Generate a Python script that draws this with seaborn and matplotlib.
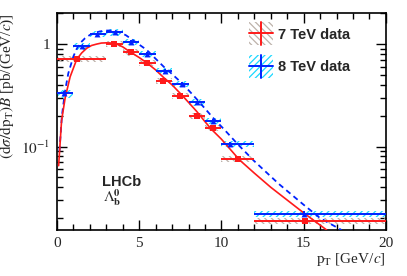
import numpy as np
import pandas as pd
import matplotlib
matplotlib.use("Agg")
import matplotlib.pyplot as plt
import matplotlib.ticker as mticker
import seaborn as sns
from matplotlib.patches import Rectangle
from matplotlib.lines import Line2D
from matplotlib.legend_handler import HandlerBase

# 7 TeV data (red)
r_lo = [0, 3, 4, 5, 6, 7, 8, 9, 10, 12]
r_hi = [3, 4, 5, 6, 7, 8, 9, 10, 12, 20]
r_x = [1.23, 3.48, 4.48, 5.45, 6.46, 7.48, 8.49, 9.46, 11.0, 15.1]
r_y = [0.72, 1.01, 0.83, 0.66, 0.44, 0.31, 0.20, 0.151, 0.076, 0.0187]
r_stat = [0.03, 0.03, 0.03, 0.03, 0.03, 0.03, 0.03, 0.04, 0.05, 0.06]
r_sys = [0.07, 0.07, 0.07, 0.07, 0.07, 0.07, 0.07, 0.07, 0.07, 0.07]

# 8 TeV data (blue)
b_lo = [0, 1, 2, 3, 4, 5, 6, 7, 8, 9, 10, 12]
b_hi = [1, 2, 3, 4, 5, 6, 7, 8, 9, 10, 12, 20]
b_x = [0.45, 1.5, 2.45, 3.5, 4.5, 5.45, 6.57, 7.58, 8.49, 9.46, 10.5, 15.0]
b_y = [0.33, 0.95, 1.26, 1.30, 1.06, 0.81, 0.55, 0.41, 0.27, 0.178, 0.106, 0.0221]
b_stat = [0.05, 0.03, 0.03, 0.03, 0.03, 0.03, 0.03, 0.03, 0.03, 0.04, 0.05, 0.06]
b_sys = [0.09, 0.07, 0.07, 0.07, 0.07, 0.07, 0.07, 0.07, 0.07, 0.07, 0.07, 0.07]

# fit curves
r_fit_x = [0.1, 0.28, 0.5, 0.8, 1.2, 1.5, 1.8, 2.1, 2.4, 2.7, 3.0, 3.3, 3.6, 4.0, 4.4, 5.0,
           5.5, 6.0, 6.5, 7.0, 7.5, 8.0, 8.5, 9.0, 9.4, 10.0, 11.1, 12.0, 13.0, 14.0, 15.0, 16.4]
r_fit_y = [0.065, 0.18, 0.30, 0.48, 0.71, 0.82, 0.91, 0.97, 1.00, 1.025, 1.03, 1.025, 1.01,
           0.94, 0.85, 0.74, 0.65, 0.56, 0.47, 0.40, 0.33, 0.27, 0.22, 0.175, 0.147, 0.118,
           0.074, 0.055, 0.040, 0.030, 0.0225, 0.0153]
b_fit_x = [0.15, 0.3, 0.5, 0.69, 1.0, 1.2, 1.4, 1.7, 2.0, 2.3, 2.6, 2.9, 3.2, 3.5, 3.8, 4.2,
           4.6, 5.0, 5.45, 6.0, 6.5, 7.0, 7.5, 8.0, 8.5, 9.0, 9.5, 10.2, 11.0, 12.0, 13.5,
           15.0, 16.0, 17.3]
b_fit_y = [0.09, 0.2, 0.355, 0.52, 0.76, 0.9, 1.02, 1.14, 1.23, 1.29, 1.33, 1.355, 1.36,
           1.345, 1.31, 1.22, 1.10, 0.99, 0.88, 0.72, 0.60, 0.51, 0.43, 0.355, 0.29, 0.235,
           0.19, 0.145, 0.105, 0.072, 0.043, 0.027, 0.020, 0.0153]

RED, RHATCH = "#ff1a1a", "#bdb2aa"
BLUE, BHATCH = "#0022ff", "#1ad8ff"

sns.set_style("ticks")
plt.rcParams["font.family"] = ["Liberation Serif", "DejaVu Serif"]
plt.rcParams["mathtext.fontset"] = "stix"
plt.rcParams["hatch.linewidth"] = 0.9

fig = plt.figure(figsize=(4.07, 2.76), dpi=100)
ax = fig.add_axes([0.140, 0.1667, 0.808, 0.785])


def draw_set(lo, hi, x, y, stat, sys, color, hcolor, hatch, marker):
    lo = np.array(lo); hi = np.array(hi); y = np.array(y)
    sysv = y * np.array(sys)
    ax.bar(lo, 2 * sysv, width=hi - lo, bottom=y - sysv, align="edge",
           fill=False, hatch=hatch, edgecolor=hcolor, linewidth=0, zorder=2)
    xv = np.array(x)
    ax.errorbar(xv, y, xerr=[xv - lo, hi - xv], yerr=y * np.array(stat), fmt="none",
                ecolor=color, elinewidth=1.4, capsize=0, zorder=4)
    df = pd.DataFrame({"x": x, "y": y})
    sns.scatterplot(data=df, x="x", y="y", marker=marker, color=color, s=18,
                    edgecolor=color, linewidth=0, ax=ax, zorder=5)


draw_set(b_lo, b_hi, b_x, b_y, b_stat, b_sys, BLUE, BHATCH, "/////", "^")
draw_set(r_lo, r_hi, r_x, r_y, r_stat, r_sys, RED, RHATCH, "\\\\\\\\\\", "s")

sns.lineplot(x=b_fit_x, y=b_fit_y, color=BLUE, lw=1.3, ax=ax, zorder=3,
             linestyle=(0, (3, 2.2)), sort=False)
sns.lineplot(x=r_fit_x, y=r_fit_y, color=RED, lw=1.2, ax=ax, zorder=3, sort=False)

ax.set_yscale("log")
ax.set_xlim(0, 20)
ax.set_ylim(0.0153, 2.0)

ax.xaxis.set_major_locator(mticker.MultipleLocator(5))
ax.xaxis.set_minor_locator(mticker.MultipleLocator(1))
ax.yaxis.set_major_locator(mticker.FixedLocator([0.1, 1]))
ax.yaxis.set_major_formatter(mticker.FixedFormatter([r"$10^{-1}$", "1"]))
ax.yaxis.set_minor_locator(mticker.LogLocator(base=10, subs=np.arange(2, 10)))
ax.yaxis.set_minor_formatter(mticker.NullFormatter())
ax.tick_params(which="both", direction="in", top=True, right=True, labelsize=11,
               width=1.0, color="black")
ax.tick_params(which="major", length=7, pad=5)
ax.tick_params(which="minor", length=4)
for s in ax.spines.values():
    s.set_linewidth(1.2)
    s.set_color("black")

ax.set_xlabel(r"p$_{\mathrm{T}}$ [GeV/$c$]", loc="right", fontsize=11, labelpad=1)
ax.set_ylabel(r"$(\mathrm{d}\sigma/\mathrm{dp}_{\mathrm{T}})\mathit{B}$ [pb/(GeV/$c$)]",
              loc="top", fontsize=11)
ax.yaxis.set_label_coords(-0.125, 1.0)

ax.text(0.137, 0.203, "LHCb", transform=ax.transAxes, fontsize=10.5,
        fontweight="bold", family=["Liberation Sans", "DejaVu Sans"])
ax.text(0.14, 0.13, r"$\Lambda_{\mathbf{b}}^{\mathbf{0}}$", transform=ax.transAxes,
        fontsize=11)


class Key(HandlerBase):
    def __init__(self, color, hcolor, hatch):
        super().__init__()
        self.c, self.hc, self.h = color, hcolor, hatch

    def create_artists(self, legend, orig, x0, y0, w, h, fs, trans):
        r = Rectangle((x0, y0 - h * 0.6), w, h * 2.2, fill=False, hatch=self.h,
                      edgecolor=self.hc, linewidth=0, transform=trans)
        l1 = Line2D([x0, x0 + w], [y0 + h / 2] * 2, color=self.c, lw=1.4, transform=trans)
        l2 = Line2D([x0 + w / 2] * 2, [y0 - h * 0.6, y0 + h * 1.6], color=self.c, lw=1.4,
                    transform=trans)
        return [r, l1, l2]


h7, h8 = Rectangle((0, 0), 1, 1), Rectangle((0, 0), 1, 1)
leg = ax.legend([h7, h8], ["7 TeV data", "8 TeV data"],
                handler_map={h7: Key(RED, RHATCH, "\\\\\\\\\\"),
                             h8: Key(BLUE, BHATCH, "/////")},
                loc="upper left", bbox_to_anchor=(0.545, 0.995), frameon=False,
                prop={"family": ["Liberation Sans", "DejaVu Sans"], "weight": "bold",
                      "size": 10.5},
                handlelength=1.6, handletextpad=0.35, labelspacing=1.3)

fig.savefig("out.png", dpi=100)
